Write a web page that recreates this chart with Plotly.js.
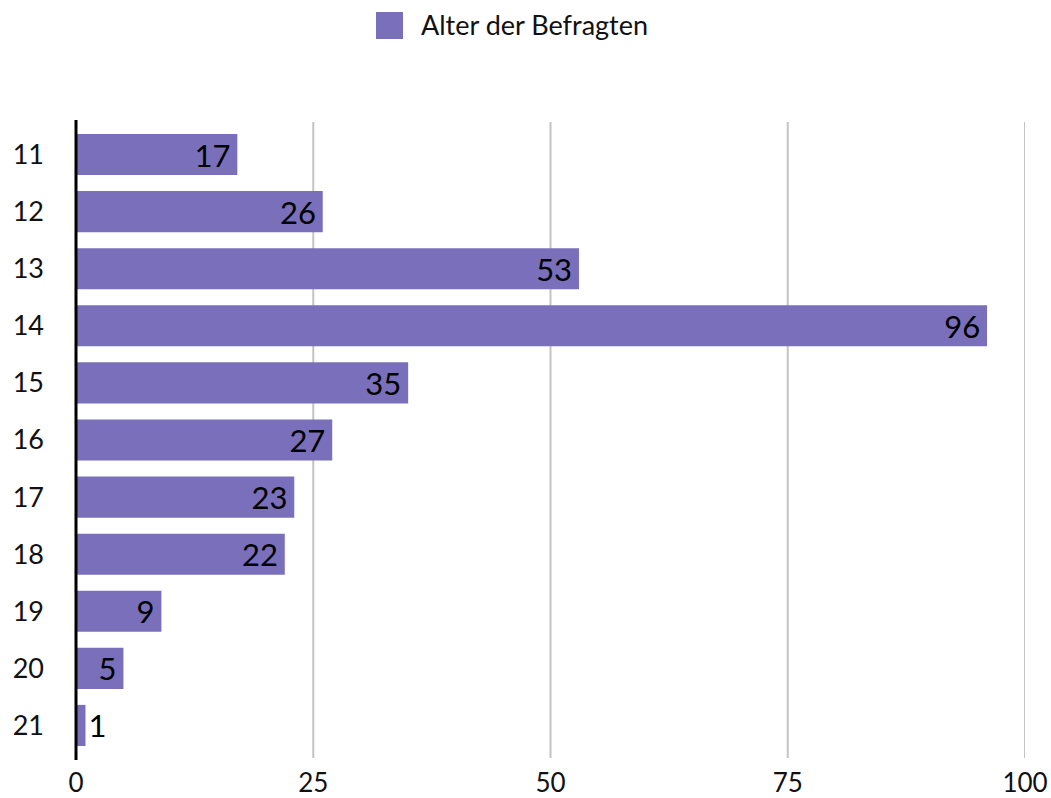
<!DOCTYPE html>
<html><head><meta charset="utf-8">
<script src="https://cdn.plot.ly/plotly-3.0.1.min.js"></script>
<style>html,body{margin:0;padding:0;background:#fff}#chart{width:1051px;height:798px}</style>
</head><body><div id="chart"></div>
<script>
const seriesName = "Alter der Befragten";
const ages = ["11","12","13","14","15","16","17","18","19","20","21"];
const counts = [17, 26, 53, 96, 35, 27, 23, 22, 9, 5, 1];
const xTicks = [0, 25, 50, 75, 100];

const barColor = "#7a6fbb";
const fontFam = "Lato, 'Open Sans', sans-serif";

const plotTop = 126, plotBottom = 754, plotLeft = 76, plotRight = 1025;
const plotH = plotBottom - plotTop, plotW = plotRight - plotLeft;

const trace = {
  type: "bar",
  orientation: "h",
  y: ages,
  x: counts,
  name: seriesName,
  showlegend: false,
  marker: {color: barColor},
  text: counts.map(v => v >= 3 ? v + "\u2009" : String(v)),
  textposition: counts.map(v => v >= 3 ? "inside" : "outside"),
  insidetextanchor: "end",
  textangle: 0,
  constraintext: "none",
  cliponaxis: false,
  textfont: {family: fontFam, size: 31, color: "#000"},
  insidetextfont: {family: fontFam, size: 31, color: "#000"},
  outsidetextfont: {family: fontFam, size: 31, color: "#000"},
  hoverinfo: "skip"
};

const gridShapes = xTicks.filter(v => v > 0).map(v => ({
  type: "line", xref: "x", yref: "paper", x0: v, x1: v,
  y0: -4 / plotH, y1: 1 + 4 / plotH,
  line: {color: "#c4c4c4", width: 2}, layer: "below"
}));

const layout = {
  width: 1051, height: 798,
  margin: {l: plotLeft, r: 1051 - plotRight, t: plotTop, b: 798 - plotBottom},
  paper_bgcolor: "#fff", plot_bgcolor: "rgba(0,0,0,0)",
  font: {family: fontFam, size: 27, color: "#111"},
  bargap: 0.28,
  showlegend: false,
  xaxis: {
    range: [0, 100], tickvals: xTicks, ticktext: xTicks.map(String),
    showgrid: false, zeroline: false, showline: false, ticks: "",
    ticklabelstandoff: 11,
    tickfont: {size: 26, family: fontFam, color: "#111"}, fixedrange: true
  },
  yaxis: {
    type: "category", autorange: "reversed",
    showgrid: false, zeroline: false, showline: false, ticks: "",
    ticklabelstandoff: 31,
    tickfont: {size: 27, family: fontFam, color: "#111"}, fixedrange: true
  },
  shapes: gridShapes.concat([
    {type: "line", xref: "paper", yref: "paper", x0: 0, x1: 0,
     y0: -6 / plotH, y1: 1 + 6 / plotH,
     line: {color: "#000", width: 3}},
    {type: "rect", xref: "paper", yref: "paper",
     x0: (376 - plotLeft) / plotW, x1: (403 - plotLeft) / plotW,
     y0: 1 + (plotTop - 39) / plotH, y1: 1 + (plotTop - 12) / plotH,
     fillcolor: barColor, line: {width: 0}}
  ]),
  annotations: [
    {xref: "paper", yref: "paper", x: (419 - plotLeft) / plotW, y: 1 + (plotTop - 25) / plotH,
     xanchor: "left", yanchor: "middle", showarrow: false,
     text: seriesName, font: {size: 27, family: fontFam, color: "#111"}}
  ]
};

Plotly.newPlot("chart", [trace], layout, {displayModeBar: false, staticPlot: true});
</script></body></html>
